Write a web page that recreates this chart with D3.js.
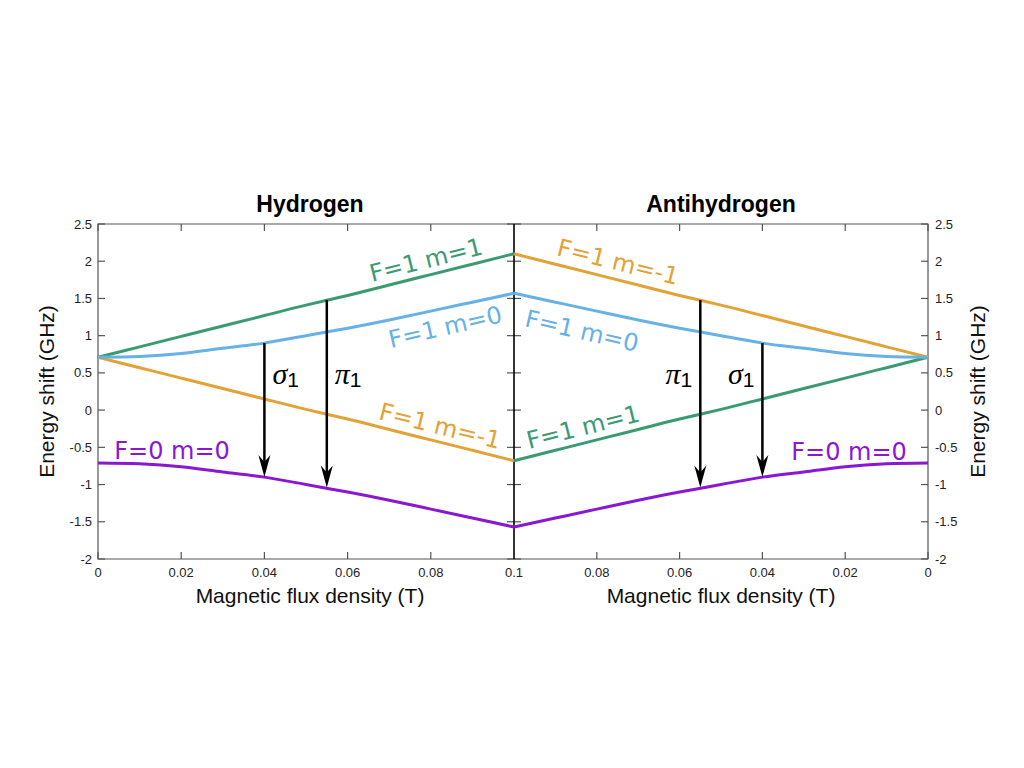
<!DOCTYPE html>
<html>
<head>
<meta charset="utf-8">
<script src="https://cdn.jsdelivr.net/npm/d3@7"></script>
<style>
  body { margin: 0; background: #fff; }
  svg { display: block; }
  .tick-label { font-family: "Liberation Sans", Arial, sans-serif; font-size: 13px; fill: #222; }
  .axis-title { font-family: "Liberation Sans", Arial, sans-serif; font-size: 21px; fill: #111; }
  .panel-title { font-family: "Liberation Sans", Arial, sans-serif; font-size: 23px; font-weight: bold; fill: #000; }
  .curve-label { font-family: "DejaVu Sans", sans-serif; font-size: 24px; }
</style>
</head>
<body>
<div id="chart"></div>
<script>
var fieldB = [0, 0.01, 0.02, 0.03, 0.04, 0.05, 0.06, 0.07, 0.08, 0.09, 0.1];
// energy shift (GHz), hydrogen
var upperLinear = [0.71, 0.85, 0.99, 1.13, 1.27, 1.41, 1.54, 1.68, 1.82, 1.96, 2.10];
var lowerLinear = [0.71, 0.57, 0.43, 0.29, 0.15, 0.01, -0.12, -0.26, -0.40, -0.54, -0.68];
var f1m0 = [0.71, 0.72, 0.76, 0.83, 0.90, 1.00, 1.10, 1.21, 1.33, 1.45, 1.57];
var f0m0 = [-0.71, -0.72, -0.76, -0.83, -0.90, -1.00, -1.10, -1.21, -1.33, -1.45, -1.57];

var xTicks = [0, 0.02, 0.04, 0.06, 0.08, 0.1];
var yTicks = [-2, -1.5, -1, -0.5, 0, 0.5, 1, 1.5, 2, 2.5];

// transitions: field, upper level, lower level
var transB = [0.04, 0.055];
var transTop = [0.90, 1.48];
var transBottom = [-0.90, -1.04];
var transName = ["σ", "π"];

var green = '#3a9b72',
    orange = '#e3a235',
    blue = '#66b1e6',
    purple = '#8a17d1';

var width = 1024, height = 768;
var plotTop = 224, plotBottom = 559, plotLeft = 98, plotMid = 514, plotRight = 928;

var svg = d3.select('#chart').append('svg').attr('width', width).attr('height', height);

var y = d3.scaleLinear().domain([-2, 2.5]).range([plotBottom, plotTop]);
var xL = d3.scaleLinear().domain([0, 0.1]).range([plotLeft, plotMid]);
var xR = d3.scaleLinear().domain([0.1, 0]).range([plotMid, plotRight]);

function pts(vals) {
    return fieldB.map(function(b, i) { return [b, vals[i]]; });
}

var panels = [
    { x: xL, title: 'Hydrogen', series: [
        { v: upperLinear, color: green }, { v: lowerLinear, color: orange },
        { v: f1m0, color: blue }, { v: f0m0, color: purple }] },
    { x: xR, title: 'Antihydrogen', series: [
        { v: upperLinear, color: orange }, { v: lowerLinear, color: green },
        { v: f1m0, color: blue }, { v: f0m0, color: purple }] }
];

// frame
var axisColor = '#555';
svg.append('path')
    .attr('d', 'M' + plotLeft + ',' + plotTop + 'H' + plotRight + 'V' + plotBottom + 'H' + plotLeft + 'Z')
    .attr('fill', 'none').attr('stroke', axisColor).attr('stroke-width', 1.2);

var tickLen = 7;
panels.forEach(function(p, pi) {
    var x = p.x;
    var g = svg.append('g');
    // x ticks top & bottom
    xTicks.forEach(function(t) {
        var px = x(t);
        if (t === 0.1) return;
        g.append('line').attr('x1', px).attr('x2', px).attr('y1', plotTop).attr('y2', plotTop + tickLen)
            .attr('stroke', axisColor).attr('stroke-width', 1.2);
        g.append('line').attr('x1', px).attr('x2', px).attr('y1', plotBottom).attr('y2', plotBottom - tickLen)
            .attr('stroke', axisColor).attr('stroke-width', 1.2);
    });
    xTicks.forEach(function(t) {
        if (pi === 1 && t === 0.1) return;
        g.append('text').attr('class', 'tick-label').attr('x', x(t)).attr('y', 577)
            .attr('text-anchor', 'middle').text(t === 0 ? '0' : d3.format('')(t));
    });
    // outer y ticks
    var edge = pi === 0 ? plotLeft : plotRight, dir = pi === 0 ? 1 : -1;
    yTicks.forEach(function(t) {
        g.append('line').attr('x1', edge).attr('x2', edge + dir * tickLen).attr('y1', y(t)).attr('y2', y(t))
            .attr('stroke', axisColor).attr('stroke-width', 1.2);
        g.append('text').attr('class', 'tick-label')
            .attr('x', pi === 0 ? plotLeft - 6 : plotRight + 7).attr('y', y(t)).attr('dy', '0.35em')
            .attr('text-anchor', pi === 0 ? 'end' : 'start').text(t);
    });
    // titles
    svg.append('text').attr('class', 'panel-title').attr('x', (x(0) + x(0.1)) / 2 + (pi === 0 ? 4 : 0))
        .attr('y', 212).attr('text-anchor', 'middle').text(p.title);
    svg.append('text').attr('class', 'axis-title').attr('x', (x(0) + x(0.1)) / 2 + (pi === 0 ? 4 : 0))
        .attr('y', 603).attr('text-anchor', 'middle').text('Magnetic flux density (T)');
});

// middle ticks and divider
yTicks.forEach(function(t) {
    svg.append('line').attr('x1', plotMid - tickLen).attr('x2', plotMid + tickLen).attr('y1', y(t)).attr('y2', y(t))
        .attr('stroke', axisColor).attr('stroke-width', 1.2);
});
svg.append('line').attr('x1', plotMid).attr('x2', plotMid).attr('y1', plotTop).attr('y2', plotBottom)
    .attr('stroke', '#000').attr('stroke-width', 1.6);

// y axis titles
svg.append('text').attr('class', 'axis-title').attr('transform', 'translate(54,' + (plotTop + plotBottom) / 2 + ') rotate(-90)')
    .attr('text-anchor', 'middle').text('Energy shift (GHz)');
svg.append('text').attr('class', 'axis-title').attr('transform', 'translate(985,' + (plotTop + plotBottom) / 2 + ') rotate(-90)')
    .attr('text-anchor', 'middle').text('Energy shift (GHz)');

// curves
panels.forEach(function(p) {
    var line = d3.line().x(function(d) { return p.x(d[0]); }).y(function(d) { return y(d[1]); })
        .curve(d3.curveNatural);
    p.series.forEach(function(s) {
        svg.append('path').attr('d', line(pts(s.v))).attr('fill', 'none')
            .attr('stroke', s.color).attr('stroke-width', 3).attr('stroke-linejoin', 'round');
    });
});

// transition arrows
panels.forEach(function(p, pi) {
    transB.forEach(function(b, i) {
        var px = p.x(b), y0 = y(transTop[i]), y1 = y(transBottom[i]);
        svg.append('line').attr('x1', px).attr('x2', px).attr('y1', y0).attr('y2', y1 - 12)
            .attr('stroke', '#000').attr('stroke-width', 2.5);
        svg.append('path')
            .attr('d', 'M' + px + ',' + y1 + 'L' + (px - 6) + ',' + (y1 - 22) + 'L' + px + ',' + (y1 - 15) +
                'L' + (px + 6) + ',' + (y1 - 22) + 'Z')
            .attr('fill', '#000');
        var t = svg.append('text').attr('y', 384)
            .attr('x', pi === 0 ? px + 8 : px - 8)
            .attr('text-anchor', pi === 0 ? 'start' : 'end');
        t.append('tspan').attr('font-family', '"Liberation Serif", serif').attr('font-style', 'italic')
            .attr('font-size', 30).text(transName[i]);
        t.append('tspan').attr('font-family', '"Liberation Sans", sans-serif')
            .attr('font-size', 21).attr('dy', 3).text('1');
    });
});

// curve labels
var labels = [
    { text: 'F=1 m=1', color: green, x: 428, y: 268, a: -14 },
    { text: 'F=1 m=0', color: blue, x: 447, y: 335, a: -13 },
    { text: 'F=1 m=-1', color: orange, x: 438, y: 434, a: 14 },
    { text: 'F=0 m=0', color: purple, x: 172, y: 459, a: 0 },
    { text: 'F=1 m=-1', color: orange, x: 616, y: 270, a: 14 },
    { text: 'F=1 m=0', color: blue, x: 580, y: 339, a: 13 },
    { text: 'F=1 m=1', color: green, x: 585, y: 435, a: -14 },
    { text: 'F=0 m=0', color: purple, x: 849, y: 460, a: 0 }
];
svg.selectAll('.curve-label').data(labels).enter().append('text')
    .attr('class', 'curve-label')
    .attr('text-anchor', 'middle')
    .attr('transform', function(d) { return 'translate(' + d.x + ',' + d.y + ') rotate(' + d.a + ')'; })
    .attr('fill', function(d) { return d.color; })
    .text(function(d) { return d.text; });
</script>
</body>
</html>
